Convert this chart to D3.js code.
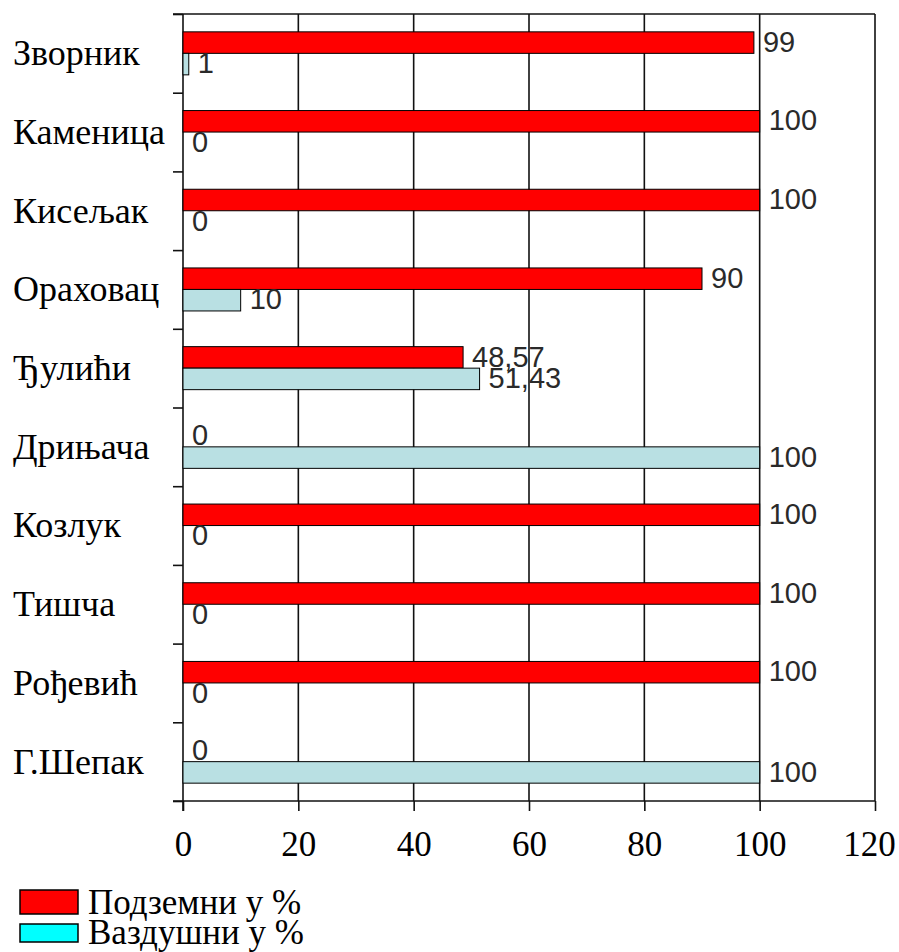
<!DOCTYPE html>
<html>
<head>
<meta charset="utf-8">
<script src="https://cdn.jsdelivr.net/npm/d3@7"></script>
<style>
  body { margin: 0; background: #fff; }
  svg { display: block; }
</style>
</head>
<body>
<svg width="899" height="952"></svg>
<script>
// podaci
var mesta = ["Зворник", "Каменица", "Кисељак", "Ораховац", "Ђулићи", "Дрињача", "Козлук", "Тишча", "Рођевић", "Г.Шепак"];
var podzemni = [99, 100, 100, 90, 48.57, 0, 100, 100, 100, 0];
var vazdusni = [1, 0, 0, 10, 51.43, 100, 0, 0, 0, 100];
var xTicks = [0, 20, 40, 60, 80, 100, 120];
var serije = ["Подземни у %", "Ваздушни у %"];

var svg = d3.select("svg");

var x = d3.scaleLinear().domain([0, 120]).range([183, 875]);
var y = d3.scaleBand().domain(mesta).range([14, 801]);
var y1 = d3.scaleBand().domain(["p", "v"]).range([0, y.bandwidth()]).paddingOuter(0.83);
var granice = d3.scaleLinear().domain([0, mesta.length]).range([14, 801]);

var fmt = function(v) { return String(v).replace(".", ","); };
var serif = "'Liberation Serif', 'Times New Roman', serif";

// mreza
svg.append("g").selectAll("line")
  .data(xTicks.slice(1))
  .enter().append("line")
  .attr("x1", function(d) { return x(d); })
  .attr("x2", function(d) { return x(d); })
  .attr("y1", 14).attr("y2", 801)
  .attr("stroke", "#111").attr("stroke-width", 1.6);

svg.append("line")
  .attr("x1", 173).attr("x2", x(120))
  .attr("y1", 14).attr("y2", 14)
  .attr("stroke", "#111").attr("stroke-width", 1.6);

// osa x
var xAxis = svg.append("g")
  .attr("transform", "translate(0,801)")
  .call(d3.axisBottom(x).tickValues(xTicks).tickSize(10).tickPadding(20).tickSizeOuter(0));
xAxis.select(".domain").attr("stroke", "#111").attr("stroke-width", 1.6).attr("d", "M173,0H875");
xAxis.selectAll(".tick line").attr("stroke", "#111").attr("stroke-width", 1.6);
xAxis.selectAll(".tick text")
  .attr("font-family", serif)
  .attr("font-size", 35).attr("fill", "#000")
  .attr("dx", function(d) { return d === 120 ? -6 : 0; });

// osa y
var yAxis = svg.append("g")
  .attr("transform", "translate(183,0)")
  .call(d3.axisLeft(granice).ticks(mesta.length).tickSize(10).tickFormat("").tickSizeOuter(0));
yAxis.select(".domain").attr("stroke", "#111").attr("stroke-width", 1.6).attr("d", "M0,14V811");
yAxis.selectAll(".tick line").attr("stroke", "#111").attr("stroke-width", 1.6);

// nazivi mesta
svg.append("g").selectAll("text")
  .data(mesta)
  .enter().append("text")
  .attr("x", 13)
  .attr("y", function(d) { return y(d) + y.bandwidth() / 2; })
  .attr("dy", "0.33em")
  .attr("font-family", serif)
  .attr("font-size", 36)
  .text(function(d) { return d; });

// stupci
var grupe = svg.append("g").selectAll("g")
  .data(mesta)
  .enter().append("g")
  .attr("transform", function(d) { return "translate(0," + y(d) + ")"; });

grupe.append("rect")
  .attr("x", x(0))
  .attr("y", y1("p"))
  .attr("width", function(d, i) { return x(podzemni[i]) - x(0); })
  .attr("height", y1.bandwidth())
  .attr("fill", "#ff0000").attr("stroke", "#000").attr("stroke-width", 1);

grupe.append("rect")
  .attr("x", x(0))
  .attr("y", y1("v"))
  .attr("width", function(d, i) { return x(vazdusni[i]) - x(0); })
  .attr("height", y1.bandwidth())
  .attr("fill", "#b9e0e3").attr("stroke", "#000").attr("stroke-width", 1);

// vrednosti
var labelFont = "'Liberation Sans', Arial, sans-serif";
grupe.append("text")
  .attr("x", function(d, i) { return x(podzemni[i]) + 9; })
  .attr("y", y1("p") + y1.bandwidth() / 2 - 1)
  .attr("dy", "0.35em")
  .attr("font-family", labelFont).attr("font-size", 29).attr("fill", "#2a2a2a")
  .text(function(d, i) { return fmt(podzemni[i]); });

grupe.append("text")
  .attr("x", function(d, i) { return x(vazdusni[i]) + 9; })
  .attr("y", y1("v") + y1.bandwidth() / 2 - 1)
  .attr("dy", "0.35em")
  .attr("font-family", labelFont).attr("font-size", 29).attr("fill", "#2a2a2a")
  .text(function(d, i) { return fmt(vazdusni[i]); });

// legenda
var boje = ["#ff0000", "#00ffff"];
var leg = svg.append("g").selectAll("g")
  .data(serije)
  .enter().append("g")
  .attr("transform", function(d, i) { return "translate(20," + (890 + i * 34) + ")"; });

leg.append("rect")
  .attr("x", 0).attr("y", 0)
  .attr("width", 58).attr("height", function(d, i) { return i === 0 ? 24 : 18; })
  .attr("fill", function(d, i) { return boje[i]; })
  .attr("stroke", "#000").attr("stroke-width", 1.5);

leg.append("text")
  .attr("x", 68).attr("y", function(d, i) { return i === 0 ? 24 : 20; })
  .attr("font-family", serif)
  .attr("font-size", 35)
  .text(function(d) { return d; });
</script>
</body>
</html>
